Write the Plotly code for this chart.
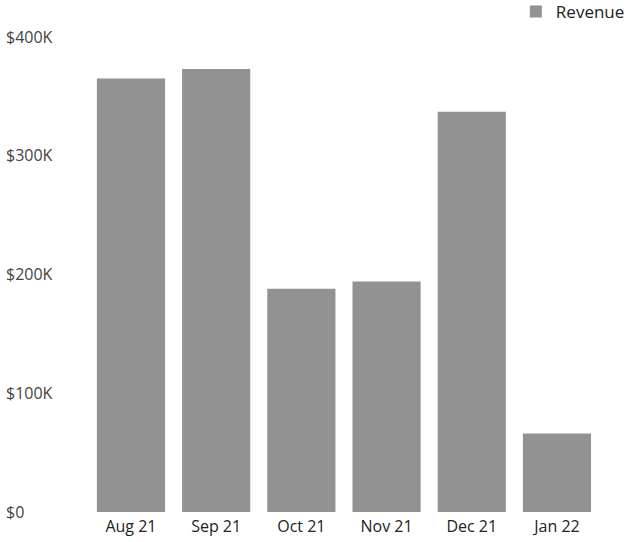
import plotly.graph_objects as go

months = ["Aug 21", "Sep 21", "Oct 21", "Nov 21", "Dec 21", "Jan 22"]
revenue = [365000, 373000, 188000, 194000, 337000, 66000]
tick_values = [0, 100000, 200000, 300000, 400000]
tick_labels = ["$0", "$100K", "$200K", "$300K", "$400K"]

FONT = "'Open Sans', 'Noto Sans', sans-serif"

fig = go.Figure(
    go.Bar(
        x=months,
        y=revenue,
        name="Revenue",
        marker=dict(color="#929292", line=dict(width=0)),
        showlegend=True,
    )
)

fig.update_layout(
    width=631,
    height=542,
    margin=dict(l=3, r=31, t=22, b=16, autoexpand=False),
    paper_bgcolor="white",
    plot_bgcolor="white",
    bargap=0.2,
    font=dict(family=FONT, size=16, color="#222222"),
    legend=dict(
        x=1.05, xanchor="right",
        y=1.02, yanchor="middle",
        orientation="h",
        font=dict(size=17, color="#222222"),
        itemwidth=30,
        bgcolor="rgba(0,0,0,0)",
    ),
    xaxis=dict(
        type="category",
        range=[-1.502, 5.505],
        showgrid=False,
        showline=False,
        zeroline=False,
        ticks="",
        ticklabelstandoff=-11,
        tickfont=dict(size=16),
    ),
    yaxis=dict(
        range=[-11790, 412630],
        tickvals=tick_values,
        ticktext=tick_labels,
        ticklabelposition="inside",
        showgrid=False,
        showline=False,
        zeroline=False,
        ticks="",
        tickfont=dict(size=16),
    ),
)

fig.write_html("out.html")
